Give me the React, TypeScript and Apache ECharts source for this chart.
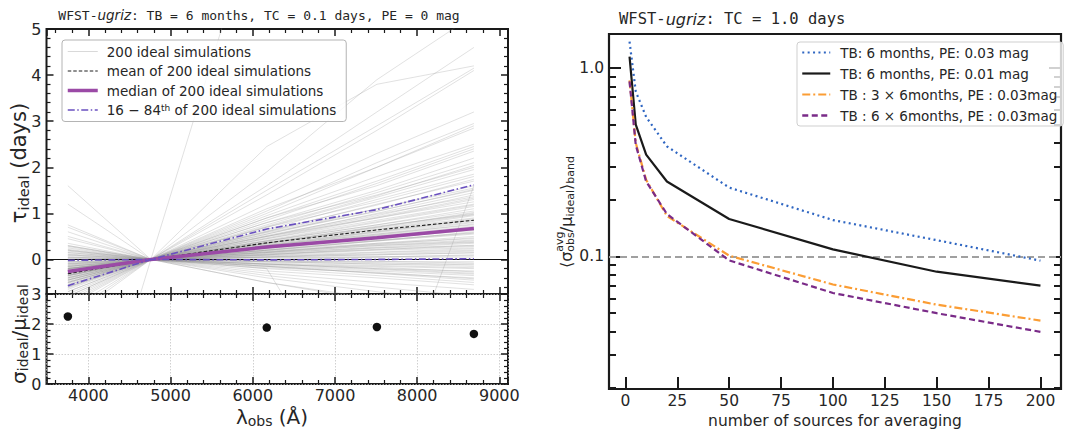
import React, { useEffect, useRef } from 'react';
import * as echarts from 'echarts';

// ---------------- Left panel data ----------------
const bandWavelengths = [3750, 4760, 6170, 7510, 8690];
// tau at u, g(reference), r, i, z for the ideal simulations
const idealSimulations: number[][] = [
  [-5.9, 0, 8.2, 9.0, 9.5],
  [-1.3, 0, 1.9, 3.9, 5.3],
  [-1.2, 0, 1.6, 3.2, 4.6],
  [-1.1, 0, 2.45, 3.8, 4.2],
  [-1.0, 0, 1.5, 2.9, 4.15],
  [-0.95, 0, 1.4, 2.8, 4.1],
  [-0.9, 0, 1.2, 2.3, 3.2],
  [-0.85, 0, 1.05, 2.1, 2.95],
  [-0.8, 0, 1.0, 2.0, 2.9],
  [-0.75, 0, 1.1, 2.0, 2.85],
  [-0.7, 0, 0.95, 1.8, 2.5],
  [-0.65, 0, 0.9, 1.7, 2.45],
  [-0.8, 0, 0.85, 1.65, 2.4],
  [-0.6, 0, 0.9, 1.6, 2.35],
  [-0.55, 0, 0.8, 1.5, 2.2],
  [-0.7, 0, 0.75, 1.45, 2.1],
  [-0.5, 0, 0.8, 1.4, 2.0],
  [-0.6, 0, 0.7, 1.35, 1.95],
  [-0.45, 0, 0.65, 1.3, 1.85],
  [-0.55, 0, 0.7, 1.25, 1.8],
  [-0.5, 0, 0.6, 1.2, 1.7],
  [-0.2, 0, -0.2, -4.1, 1.6],
  [-0.4, 0, 0.6, 1.1, 1.6],
  [-0.45, 0, 0.55, 1.1, 1.55],
  [-0.35, 0, 0.55, 1.05, 1.5],
  [-0.5, 0, 0.5, 1.0, 1.45],
  [-0.4, 0, 0.5, 0.95, 1.4],
  [-0.3, 0, 0.5, 0.9, 1.3],
  [-0.45, 0, 0.45, 0.9, 1.25],
  [-0.35, 0, 0.45, 0.85, 1.2],
  [-0.3, 0, 0.4, 0.8, 1.15],
  [-0.4, 0, 0.4, 0.75, 1.1],
  [-0.25, 0, 0.4, 0.75, 1.05],
  [-0.35, 0, 0.35, 0.7, 1.0],
  [-0.3, 0, 0.35, 0.65, 0.95],
  [-0.2, 0, 0.35, 0.65, 0.9],
  [-0.3, 0, 0.3, 0.6, 0.85],
  [-0.25, 0, 0.3, 0.55, 0.8],
  [-0.2, 0, 0.3, 0.55, 0.75],
  [-0.3, 0, 0.25, 0.5, 0.7],
  [-0.15, 0, 0.25, 0.5, 0.68],
  [-0.25, 0, 0.25, 0.45, 0.65],
  [-0.2, 0, 0.2, 0.4, 0.6],
  [-0.1, 0, 0.2, 0.4, 0.55],
  [-0.2, 0, 0.2, 0.35, 0.5],
  [-0.15, 0, 0.15, 0.35, 0.45],
  [-0.05, 0, 0.15, 0.3, 0.4],
  [-0.15, 0, 0.15, 0.25, 0.35],
  [-0.1, 0, 0.1, 0.25, 0.3],
  [0.0, 0, 0.1, 0.2, 0.25],
  [-0.05, 0, 0.05, 0.15, 0.2],
  [0.05, 0, 0.05, 0.1, 0.15],
  [0.0, 0, 0.05, 0.05, 0.1],
  [0.1, 0, 0.0, 0.05, 0.05],
  [0.05, 0, 0.0, 0.0, 0.0],
  [0.15, 0, -0.05, -0.05, -0.05],
  [0.1, 0, -0.05, -0.1, -0.1],
  [0.2, 0, -0.05, -0.1, -0.15],
  [0.15, 0, -0.1, -0.15, -0.2],
  [0.25, 0, -0.1, -0.2, -0.25],
  [0.3, 0, -0.1, -0.2, -0.3],
  [0.2, 0, -0.15, -0.25, -0.35],
  [0.3, 0, -0.15, -0.3, -0.4],
  [0.45, 0, -0.15, -0.3, -0.45],
  [0.35, 0, -0.2, -0.35, -0.5],
  [0.5, 0, -0.25, -0.4, -0.55],
  [0.7, 0, -0.3, -0.5, -0.65],
  [0.6, 0, -0.35, -0.6, -0.8],
  [1.2, 0, -0.4, -0.7, -0.95],
  [1.6, 0, -0.5, -0.85, -1.1],
  [0.75, 0, -0.5, -0.9, -1.3],
  [-0.28, 0, 0.32, 0.62, 0.88],
  [-0.18, 0, 0.22, 0.42, 0.58],
  [-0.12, 0, 0.18, 0.32, 0.42],
  [-0.22, 0, 0.28, 0.52, 0.72],
  [-0.38, 0, 0.42, 0.82, 1.18],
  [-0.08, 0, 0.12, 0.22, 0.28],
  [0.02, 0, 0.08, 0.12, 0.18],
  [0.08, 0, -0.02, -0.04, -0.08],
  [-0.32, 0, 0.38, 0.7, 1.02],
  [-0.42, 0, 0.36, 0.72, 0.98],
  [-0.36, 0, 0.3, 0.58, 0.82],
  [-0.27, 0, 0.26, 0.49, 0.66],
  [-0.33, 0, 0.2, 0.41, 0.57],
  [-0.24, 0, 0.17, 0.33, 0.47],
  [-0.19, 0, 0.13, 0.27, 0.37],
  [-0.29, 0, 0.11, 0.21, 0.31],
  [-0.13, 0, 0.09, 0.16, 0.23],
  [-0.21, 0, 0.06, 0.1, 0.14],
  [-0.09, 0, 0.03, 0.06, 0.08],
  [0.04, 0, -0.03, -0.07, -0.12],
  [0.12, 0, -0.08, -0.13, -0.18],
  [0.18, 0, -0.11, -0.17, -0.27],
  [0.22, 0, -0.13, -0.22, -0.32],
  [0.28, 0, -0.18, -0.28, -0.42],
  [-0.48, 0, 0.47, 0.92, 1.33],
  [-0.52, 0, 0.58, 1.04, 1.52],
  [-0.58, 0, 0.62, 1.18, 1.74],
  [-0.62, 0, 0.72, 1.38, 2.04],
  [-0.44, 0, 0.52, 0.98, 1.36],
  [-0.26, 0, 0.36, 0.68, 0.97],
  [-0.16, 0, 0.24, 0.46, 0.63],
  [-0.06, 0, 0.16, 0.3, 0.38],
  [-0.34, 0, 0.27, 0.53, 0.77],
  [-0.23, 0, 0.33, 0.6, 0.86],
];
const meanTau = [-0.31, 0, 0.36, 0.64, 0.85];
const medianTau = [-0.26, 0, 0.27, 0.47, 0.67];
const upperPctTau = [-0.57, 0, 0.66, 1.08, 1.62];
const lowerPctTau = [-0.02, 0, -0.01, 0.0, 0.015];
const ratioWavelengths = [3750, 6170, 7510, 8690];
const sigmaOverMu = [2.25, 1.88, 1.9, 1.67];

// ---------------- Right panel data ----------------
const nSources = [2, 5, 10, 20, 50, 100, 150, 200];
const tb6pe003 = [1.38, 0.75, 0.55, 0.384, 0.232, 0.156, 0.122, 0.095];
const tb6pe001 = [1.15, 0.5, 0.347, 0.25, 0.158, 0.109, 0.083, 0.07];
const tb3x6pe003 = [0.86, 0.4, 0.255, 0.164, 0.101, 0.071, 0.0555, 0.0457];
const tb6x6pe003 = [0.85, 0.39, 0.25, 0.168, 0.0953, 0.064, 0.05, 0.0398];
const rightXTicks = [0, 25, 50, 75, 100, 125, 150, 175, 200];
const rightYMajor = [0.1, 1];
const rightYMinor = [0.02, 0.03, 0.04, 0.05, 0.06, 0.07, 0.08, 0.09, 0.2, 0.3, 0.4, 0.5, 0.6, 0.7, 0.8, 0.9];
const thresholdLevel = 0.1;

const INK = '#1a1a1a';
const LABEL = '#262626';
const FONT = 'DejaVu Sans';
const MONO = 'DejaVu Sans Mono';

const leftTicks = (gridIndex: number, position: string, min: number, max: number, extra: any = {}) => ({
  type: 'value',
  gridIndex,
  position,
  min,
  max,
  axisLine: { show: false, onZero: false },
  splitLine: { show: false },
  axisLabel: { show: false },
  axisTick: { show: true, inside: true, length: 7, lineStyle: { color: INK, width: 1.5 } },
  minorTick: { show: true, splitNumber: 5, length: 4, lineStyle: { color: INK, width: 1.2 } },
  ...extra,
});

const gridDots = { show: true, lineStyle: { color: '#c4c4c4', width: 0.8, type: [1.5, 1.5] } };

const logAxis = (position: string, values: number[], length: number, labels: boolean) => ({
  type: 'log',
  logBase: 10,
  gridIndex: 2,
  position,
  min: 0.0198,
  max: 1.515,
  axisLine: { show: false, onZero: false },
  splitLine: { show: false },
  minorTick: { show: false },
  axisTick: { show: true, inside: true, length, customValues: values, lineStyle: { color: INK, width: 2 } },
  axisLabel: labels
    ? {
        show: true,
        customValues: values,
        margin: 5,
        fontSize: 15.5,
        fontFamily: FONT,
        color: LABEL,
        formatter: (v: number) => (Math.abs(v - 1) < 1e-6 ? '1.0' : '0.1'),
      }
    : { show: false },
});

const lineSeries = (name: string, values: number[], color: string, width: number, type: any, z: number, extra: any = {}) => ({
  name,
  type: 'line',
  xAxisIndex: 0,
  yAxisIndex: 0,
  data: bandWavelengths.map((w, i) => [w, values[i]]),
  symbol: 'none',
  silent: true,
  z,
  itemStyle: { color },
  lineStyle: { color, width, type },
  ...extra,
});

const rightSeries = (name: string, values: number[], color: string, width: number, type: any, extra: any = {}) => ({
  name,
  type: 'line',
  xAxisIndex: 4,
  yAxisIndex: 4,
  data: nSources.map((n, i) => [n, values[i]]),
  symbol: 'none',
  silent: true,
  z: 3,
  itemStyle: { color },
  lineStyle: { color, width, type },
  ...extra,
});

const hiddenSymbol = { opacity: 0 };

const option: any = {
  animation: false,
  backgroundColor: '#ffffff',
  textStyle: { fontFamily: FONT },
  grid: [
    { left: 46.5, top: 29, width: 461.5, height: 265, show: true, borderColor: INK, borderWidth: 2, backgroundColor: 'transparent' },
    { left: 46.5, top: 294, width: 461.5, height: 90, show: true, borderColor: INK, borderWidth: 2, backgroundColor: 'transparent' },
    { left: 609, top: 34, width: 452, height: 355, show: true, borderColor: INK, borderWidth: 2.2, backgroundColor: 'transparent' },
  ],
  xAxis: [
    leftTicks(0, 'bottom', 3490, 9105),
    leftTicks(0, 'top', 3490, 9105),
    leftTicks(1, 'bottom', 3490, 9105, {
      axisLabel: {
        show: true,
        margin: 3,
        fontSize: 16,
        fontFamily: FONT,
        color: LABEL,
        showMinLabel: false,
        showMaxLabel: false,
        formatter: (v: number) => String(v),
      },
      splitLine: gridDots,
    }),
    leftTicks(1, 'top', 3490, 9105),
    {
      type: 'value',
      gridIndex: 2,
      position: 'bottom',
      min: -7.9,
      max: 209.9,
      axisLine: { show: false, onZero: false },
      splitLine: { show: false },
      minorTick: { show: false },
      axisTick: { show: true, inside: true, length: 12, customValues: rightXTicks, lineStyle: { color: INK, width: 2 } },
      axisLabel: {
        show: true,
        customValues: rightXTicks,
        margin: 4,
        fontSize: 15.5,
        fontFamily: FONT,
        color: LABEL,
        formatter: (v: number) => String(v),
      },
    },
  ],
  yAxis: [
    leftTicks(0, 'left', -0.75, 5, {
      axisLabel: {
        show: true,
        margin: 5,
        fontSize: 16,
        fontFamily: FONT,
        color: LABEL,
        showMinLabel: false,
        showMaxLabel: true,
        formatter: (v: number) => String(v),
      },
    }),
    leftTicks(0, 'right', -0.75, 5),
    leftTicks(1, 'left', 0, 3, {
      interval: 1,
      axisLabel: {
        show: true,
        margin: 5,
        fontSize: 16,
        fontFamily: FONT,
        color: LABEL,
        showMinLabel: true,
        showMaxLabel: true,
        formatter: (v: number) => String(v),
      },
      splitLine: gridDots,
    }),
    leftTicks(1, 'right', 0, 3, { interval: 1 }),
    logAxis('left', rightYMajor, 12, true),
    logAxis('left', rightYMinor, 7, false),
    logAxis('right', rightYMajor, 12, false),
    logAxis('right', rightYMinor, 7, false),
  ],
  legend: [
    {
      left: 62,
      top: 40,
      orient: 'vertical',
      selectedMode: false,
      itemWidth: 30,
      itemHeight: 14,
      itemGap: 5.5,
      padding: [4.5, 10, 4.5, 4],
      borderColor: '#b4b4b4',
      borderWidth: 1,
      borderRadius: 3,
      backgroundColor: 'rgba(255,255,255,0.8)',
      itemStyle: hiddenSymbol,
      textStyle: {
        fontFamily: FONT,
        fontSize: 13.5,
        color: LABEL,
        padding: [0, 0, 0, 4],
        rich: { sup: { fontSize: 9, fontFamily: FONT, color: LABEL, verticalAlign: 'top', lineHeight: 9 } },
      },
      formatter: (name: string) => (name === 'pct' ? '16 − 84{sup|th} of 200 ideal simulations' : name),
      data: [
        { name: '200 ideal simulations', lineStyle: { width: 1 }, itemStyle: hiddenSymbol },
        { name: 'mean of 200 ideal simulations', lineStyle: { width: 1 }, itemStyle: hiddenSymbol },
        { name: 'median of 200 ideal simulations', lineStyle: { width: 3.5 }, itemStyle: hiddenSymbol },
        { name: 'pct', lineStyle: { width: 1.5 }, itemStyle: hiddenSymbol },
      ],
    },
    {
      left: 797,
      top: 42,
      orient: 'vertical',
      selectedMode: false,
      itemWidth: 28,
      itemHeight: 14,
      itemGap: 7,
      padding: [3.5, 6, 3.5, 4],
      borderColor: '#cfcfcf',
      borderWidth: 1,
      borderRadius: 3,
      backgroundColor: 'rgba(255,255,255,0.8)',
      itemStyle: hiddenSymbol,
      textStyle: { fontFamily: FONT, fontSize: 13.5, color: LABEL, padding: [0, 0, 0, 5] },
      data: [
        { name: 'TB: 6 months, PE: 0.03 mag', lineStyle: { width: 2.2 }, itemStyle: hiddenSymbol },
        { name: 'TB: 6 months, PE: 0.01 mag', lineStyle: { width: 2.2 }, itemStyle: hiddenSymbol },
        { name: 'TB : 3 × 6months, PE : 0.03mag', lineStyle: { width: 2.2 }, itemStyle: hiddenSymbol },
        { name: 'TB : 6 × 6months, PE : 0.03mag', lineStyle: { width: 2.5 }, itemStyle: hiddenSymbol },
      ],
    },
  ],
  series: [
    ...idealSimulations.map((vals) =>
      lineSeries('200 ideal simulations', vals, 'rgba(150,150,150,0.36)', 0.8, 'solid', 1)
    ),
    lineSeries('mean of 200 ideal simulations', meanTau, '#1e1e1e', 1.1, [3.5, 2], 4, {
      markLine: {
        silent: true,
        symbol: 'none',
        label: { show: false },
        lineStyle: { color: '#111111', width: 1.2, type: 'solid' },
        data: [{ yAxis: 0 }],
      },
    }),
    lineSeries('median of 200 ideal simulations', medianTau, '#9b4aa6', 3.5, 'solid', 5),
    lineSeries('pct', upperPctTau, '#6a50c0', 1.6, [7, 2.5, 1.5, 2.5], 6),
    lineSeries('pct', lowerPctTau, '#6a50c0', 1.6, [7, 2.5, 1.5, 2.5], 6),
    {
      name: 'ratio',
      type: 'scatter',
      xAxisIndex: 2,
      yAxisIndex: 2,
      data: ratioWavelengths.map((w, i) => [w, sigmaOverMu[i]]),
      symbol: 'circle',
      symbolSize: 8.5,
      silent: true,
      itemStyle: { color: '#111111', opacity: 1 },
      z: 5,
    },
    rightSeries('TB: 6 months, PE: 0.03 mag', tb6pe003, '#2f66c2', 2.2, [2, 3.4]),
    rightSeries('TB: 6 months, PE: 0.01 mag', tb6pe001, '#1a1a1a', 2.2, 'solid', {
      markLine: {
        silent: true,
        symbol: 'none',
        label: { show: false },
        lineStyle: { color: '#a0a0a0', width: 1.8, type: [7, 4] },
        data: [{ yAxis: thresholdLevel }],
        z: 1,
      },
    }),
    rightSeries('TB : 3 × 6months, PE : 0.03mag', tb3x6pe003, '#fb9d34', 2.2, [8, 3, 2, 3]),
    rightSeries('TB : 6 × 6months, PE : 0.03mag', tb6x6pe003, '#7a2b88', 2.2, [6, 3.5]),
  ],
  graphic: [
    {
      type: 'text',
      x: 259,
      y: 15,
      silent: true,
      style: {
        text: '{m|WFST-}{i|ugriz}{m|: TB = 6 months, TC = 0.1 days, PE = 0 mag}',
        align: 'center',
        verticalAlign: 'middle',
        rich: {
          m: { fontFamily: MONO, fontSize: 13, fill: LABEL },
          i: { fontFamily: FONT, fontStyle: 'italic', fontSize: 13.5, fill: LABEL },
        },
      },
    },
    {
      type: 'text',
      x: 619,
      y: 19,
      silent: true,
      style: {
        text: '{m|WFST-}{i|ugriz}{m|: TC = 1.0 days}',
        align: 'left',
        verticalAlign: 'middle',
        rich: {
          m: { fontFamily: MONO, fontSize: 15.5, fill: LABEL },
          i: { fontFamily: FONT, fontStyle: 'italic', fontSize: 16, fill: LABEL },
        },
      },
    },
    {
      type: 'text',
      x: 19,
      y: 163,
      rotation: Math.PI / 2,
      silent: true,
      style: {
        text: '{m|τ}{s|ideal}{m| (days)}',
        align: 'center',
        verticalAlign: 'middle',
        rich: {
          m: { fontFamily: FONT, fontSize: 21, lineHeight: 24, fill: LABEL },
          s: { fontFamily: FONT, fontSize: 14.5, lineHeight: 13, verticalAlign: 'bottom', fill: LABEL },
        },
      },
    },
    {
      type: 'text',
      x: 19,
      y: 334,
      rotation: Math.PI / 2,
      silent: true,
      style: {
        text: '{m|σ}{s|ideal}{m|/μ}{s|ideal}',
        align: 'center',
        verticalAlign: 'middle',
        rich: {
          m: { fontFamily: FONT, fontSize: 20, lineHeight: 22, fill: LABEL },
          s: { fontFamily: FONT, fontSize: 14, lineHeight: 12, verticalAlign: 'bottom', fill: LABEL },
        },
      },
    },
    {
      type: 'text',
      x: 272,
      y: 417,
      silent: true,
      style: {
        text: '{m|λ}{s|obs}{m| (Å)}',
        align: 'center',
        verticalAlign: 'middle',
        rich: {
          m: { fontFamily: FONT, fontSize: 20, lineHeight: 22, fill: LABEL },
          s: { fontFamily: FONT, fontSize: 14, lineHeight: 12, verticalAlign: 'bottom', fill: LABEL },
        },
      },
    },
    {
      type: 'group',
      x: 566,
      y: 212,
      rotation: Math.PI / 2,
      silent: true,
      children: [
        {
          type: 'text',
          x: -56,
          y: 0,
          style: {
            text: '{m|⟨σ}{s|obs}{m|/μ}{s|ideal}{m|⟩}{s|band}',
            align: 'left',
            verticalAlign: 'middle',
            rich: {
              m: { fontFamily: FONT, fontSize: 16, lineHeight: 20, fill: LABEL },
              s: { fontFamily: FONT, fontSize: 11, lineHeight: 10, verticalAlign: 'bottom', fill: LABEL },
            },
          },
        },
        {
          type: 'text',
          x: -39.7,
          y: -6.5,
          style: { text: 'avg', fontFamily: FONT, fontSize: 11, fill: LABEL, align: 'left', verticalAlign: 'middle' },
        },
      ],
    },
    {
      type: 'text',
      x: 835,
      y: 421,
      silent: true,
      style: {
        text: 'number of sources for averaging',
        fontFamily: FONT,
        fontSize: 15.5,
        fill: LABEL,
        align: 'center',
        verticalAlign: 'middle',
      },
    },
  ],
};

export default function App() {
  const ref = useRef<HTMLDivElement>(null);
  useEffect(() => {
    if (!ref.current) return;
    const chart = echarts.init(ref.current, undefined, { renderer: 'svg' });
    chart.setOption(option);
    return () => chart.dispose();
  }, []);
  return (
    <div
      ref={ref}
      style={{ position: 'fixed', left: 0, top: 0, width: 1065, height: 432, background: '#ffffff' }}
    />
  );
}
